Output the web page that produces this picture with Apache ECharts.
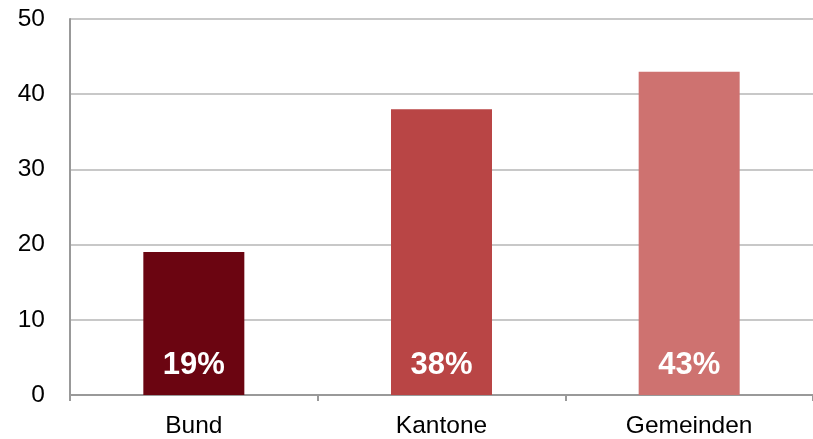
<!DOCTYPE html>
<html><head><meta charset="utf-8">
<script src="https://cdn.jsdelivr.net/npm/echarts@6/dist/echarts.min.js"></script>
<style>html,body{margin:0;padding:0;background:#fff}#c{width:813px;height:439px}</style>
</head><body><div id="c"></div>
<script>
const categories = ['Bund', 'Kantone', 'Gemeinden'];
const values = [19, 38, 43];
const labels = ['19%', '38%', '43%'];
const colors = ['#6B0511', '#B94545', '#CE7270'];
const yTicks = [0, 10, 20, 30, 40, 50];

const chart = echarts.init(document.getElementById('c'));
chart.setOption({
  animation: false,
  grid: {left: 70, right: -4, top: 19, bottom: 41, containLabel: false},
  xAxis: {
    type: 'category', data: categories,
    axisLine: {lineStyle: {color: '#999', width: 2}},
    axisTick: {show: true, length: 6, lineStyle: {color: '#999', width: 2}},
    axisLabel: {color: '#000', fontSize: 24.5, fontFamily: 'Liberation Sans, Arial', margin: 19}
  },
  yAxis: {
    type: 'value', min: yTicks[0], max: yTicks[yTicks.length-1], interval: 10,
    axisLine: {show: true, lineStyle: {color: '#999', width: 2}},
    axisTick: {show: false},
    axisLabel: {color: '#000', fontSize: 24.5, fontFamily: 'Liberation Sans, Arial', margin: 25},
    splitLine: {lineStyle: {color: '#c8c8c8', width: 2}}
  },
  series: [{
    type: 'bar', barWidth: 101,
    data: values.map((v, i) => ({value: v, itemStyle: {color: colors[i]},
      label: {formatter: labels[i]}})),
    label: {show: true, position: 'insideBottom', distance: 14, color: '#fff',
      fontSize: 31, fontWeight: 'bold', fontFamily: 'Liberation Sans, Arial'}
  }]
});
</script></body></html>
